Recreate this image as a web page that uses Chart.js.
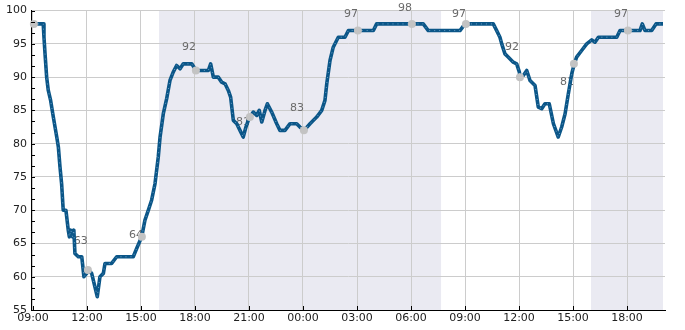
<!DOCTYPE html>
<html>
<head>
<meta charset="utf-8">
<script src="https://cdn.jsdelivr.net/npm/chart.js@4.4.1/dist/chart.umd.min.js"></script>
<style>
html,body{margin:0;padding:0;background:#fff;}
#wrap{width:685px;height:330px;}
</style>
</head>
<body>
<div id="wrap"><canvas id="c" width="685" height="330"></canvas></div>
<script>
// hours since 09:00 of day 1
const times = [0,0.57,0.61,0.67,0.76,0.85,0.98,1.13,1.32,1.41,1.5,1.59,1.68,1.83,1.96,2.02,2.1,2.2,2.27,2.33,2.52,2.71,2.83,2.98,3.07,3.26,3.44,3.57,3.72,3.91,4.0,4.37,4.65,5.57,5.76,6.04,6.22,6.41,6.59,6.78,6.96,7.06,7.24,7.43,7.61,7.79,7.98,8.17,8.35,8.82,9.06,9.74,9.87,10.02,10.29,10.48,10.67,10.85,10.98,11.13,11.32,11.5,11.68,11.83,11.96,12.06,12.24,12.43,12.57,12.71,12.89,13.02,13.26,13.54,13.72,14.0,14.28,14.65,14.83,15.06,15.39,15.76,16.04,16.22,16.32,16.5,16.68,16.96,17.33,17.52,18.91,19.09,21.68,21.96,23.72,24.0,25.57,25.76,25.94,26.04,26.22,26.41,26.68,26.87,27.02,27.06,27.24,27.43,27.61,27.89,28.07,28.26,28.44,28.68,28.91,29.18,29.37,29.56,29.74,29.93,30.07,30.2,30.48,30.76,31.04,31.22,31.41,32.43,32.61,33.72,33.85,34.0,34.37,34.61,35.0];
const values = [98,98,96,93.5,90,88,86.5,84,81,79.5,76.5,74,70,70,67,66,67,66,67,63.5,63,63,60,60.5,61,60.5,58.5,57,60,60.5,62,62,63,63,64.25,66,68.5,70,71.5,74,78,81,84.5,86.8,89.5,90.75,91.75,91.25,92,92,91,91,92,90,90,89.25,89,88,87,83.5,83,82,81,82.5,83.5,84,84.75,84.25,85,83.25,85,86,84.75,83,82,82,83,83,82.5,82,83,84,85,86.5,89,92.5,94.5,96,96,97,97,98,98,97,97,98,98,97,96,95,93.5,93,92.25,92,90.75,90,90.25,91,89.5,88.75,85.5,85.25,86,86,83,81,82.5,84.5,87.5,90.5,92,93,94,95,95.6,95.25,96,96,97,97,98,97,97,98,98];

const markerTimes = [0.05,3.05,6.05,9.05,12.05,15.05,18.05,21.05,24.05,27.05,30.05,33.05];
const markerValues = [98,61,66,91,84,82,97,98,98,90,92,97];

const noteTexts = ['63','64','92','81','83','97','98','97','92','81','97'];
const noteTimes = [2.65,5.72,8.67,11.67,14.67,17.67,20.67,23.67,26.61,29.67,32.67];
const noteValues = [65.35,66.25,94.45,83.2,85.3,99.4,100.3,99.4,94.45,89.2,99.4];

const shadeStarts = [7.0,31.0];
const shadeEnds = [22.67,35.0];

const xTickValues = [0,3,6,9,12,15,18,21,24,27,30,33];
const xTickLabels = ['09:00','12:00','15:00','18:00','21:00','00:00','03:00','06:00','09:00','12:00','15:00','18:00'];
const yTickValues = [55,60,65,70,75,80,85,90,95,100];

Chart.defaults.font.family = "'DejaVu Sans', sans-serif";
Chart.defaults.font.size = 11;
Chart.defaults.color = '#222';

const lineData = times.map((t,i)=>({x:t,y:values[i]}));
const markerData = markerTimes.map((t,i)=>({x:t,y:markerValues[i]}));

const decor = {
  id:'decor',
  beforeDraw(chart){
    const {ctx, chartArea:a, scales:{x}} = chart;
    ctx.save();
    ctx.fillStyle = '#eaeaf2';
    shadeStarts.forEach((s,i)=>{
      const x0 = x.getPixelForValue(s), x1 = x.getPixelForValue(shadeEnds[i]);
      ctx.fillRect(x0, a.top, x1-x0, a.bottom-a.top);
    });
    ctx.restore();
  },
  beforeDatasetsDraw(chart){
    const {ctx, scales:{x,y}} = chart;
    ctx.save();
    ctx.fillStyle = '#6a6a6a';
    ctx.font = "11px 'DejaVu Sans', sans-serif";
    ctx.textAlign = 'center';
    ctx.textBaseline = 'middle';
    noteTexts.forEach((t,i)=>{
      ctx.fillText(t, x.getPixelForValue(noteTimes[i]), y.getPixelForValue(noteValues[i]));
    });
    ctx.restore();
  },
  afterDraw(chart){
    const {ctx, chartArea:a, scales:{x,y}} = chart;
    ctx.save();
    ctx.strokeStyle = '#000';
    ctx.lineWidth = 1;
    ctx.beginPath();
    xTickValues.forEach(v=>{
      const px = Math.round(x.getPixelForValue(v))+0.5;
      ctx.moveTo(px, a.bottom); ctx.lineTo(px, a.bottom-4);
    });
    for(let k=0;k<=27;k++){
      const v = 55 + k*5/3;
      const py = Math.round(y.getPixelForValue(v))+0.5;
      ctx.moveTo(a.left, py); ctx.lineTo(a.left+4, py);
    }
    ctx.stroke();
    ctx.restore();
  }
};

new Chart(document.getElementById('c'), {
  type:'line',
  data:{
    datasets:[
      {data:markerData, showLine:false, pointRadius:4, pointHoverRadius:4, pointBackgroundColor:'#c3c3c3', pointBorderWidth:0, order:0, clip:false},
      {data:lineData, borderColor:'#6a9fc7', borderWidth:1, borderDash:[1,4], pointRadius:0, tension:0, order:1},
      {data:lineData, borderColor:'#0b5688', borderWidth:3.6, pointRadius:0, tension:0, order:2, borderJoinStyle:'round'}
    ]
  },
  options:{
    responsive:false,
    animation:false,
    events:[],
    layout:{padding:{left:0,right:20,top:10,bottom:0}},
    plugins:{legend:{display:false}, tooltip:{enabled:false}},
    scales:{
      x:{
        type:'linear', min:-0.11, max:35.11,
        afterBuildTicks(s){ s.ticks = xTickValues.map(v=>({value:v})); },
        afterFit(s){ s.height = 20; },
        ticks:{autoSkip:false, maxRotation:0, padding:2, color:'#222', callback:(v,i)=>xTickLabels[i]},
        grid:{color:'#cccccc', lineWidth:1, drawTicks:false},
        border:{display:true, color:'#000', width:1}
      },
      y:{
        min:55, max:100,
        afterBuildTicks(s){ s.ticks = yTickValues.map(v=>({value:v})); },
        afterFit(s){ s.width = 31; },
        ticks:{padding:4, color:'#222', callback:(v)=>String(v)},
        grid:{color:'#cccccc', lineWidth:1, drawTicks:false},
        border:{display:true, color:'#000', width:1}
      }
    }
  },
  plugins:[decor]
});
</script>
</body>
</html>
